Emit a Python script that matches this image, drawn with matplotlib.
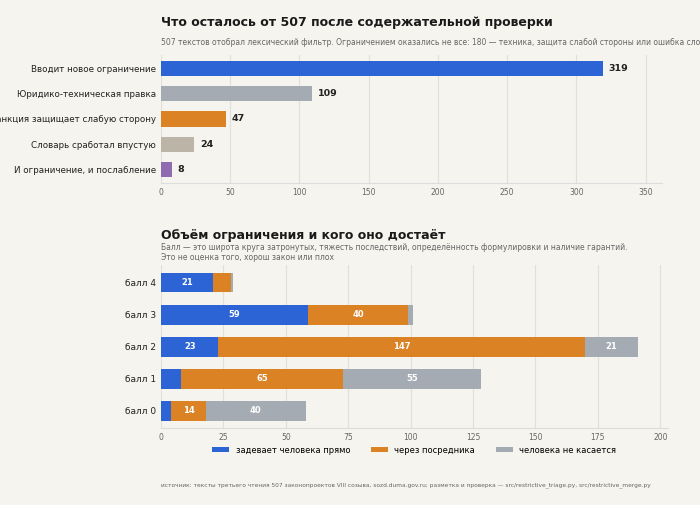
import matplotlib
matplotlib.use("Agg")
import matplotlib.pyplot as plt
import numpy as np

top_labels = ["Вводит новое ограничение", "Юридико-техническая правка", "Санкция защищает слабую сторону",
              "Словарь сработал впустую", "И ограничение, и послабление"]
top_values = [319, 109, 47, 24, 8]
top_colors = ["#2c64d6", "#a5abb2", "#db8224", "#bcb4a6", "#8f6bb0"]

scores = ["балл 4", "балл 3", "балл 2", "балл 1", "балл 0"]
direct = [21, 59, 23, 8, 4]
via = [7, 40, 147, 65, 14]
none_ = [1, 2, 21, 55, 40]
series_names = ["задевает человека прямо", "через посредника", "человека не касается"]
series_colors = ["#2c64d6", "#db8224", "#a5abb2"]

bg = "#f6f4ee"
fig = plt.figure(figsize=(7, 5.05), dpi=100, facecolor=bg)

ax1 = fig.add_axes([0.23, 0.638, 0.716, 0.253], facecolor=bg)
y = np.arange(len(top_labels))
ax1.barh(y, top_values, color=top_colors, height=0.6)
for yi, v in zip(y, top_values):
    ax1.text(v + 4, yi, str(v), va="center", ha="left", fontsize=6.8, fontweight="bold", color="#222")
ax1.set_yticks(y, top_labels)
ax1.invert_yaxis()
ax1.set_xlim(0, 362)
ax1.set_xticks(range(0, 351, 50))
ax1.grid(axis="x", color="#e2dfd8", lw=0.8)
ax1.set_axisbelow(True)
for s in ["top", "right", "left"]:
    ax1.spines[s].set_visible(False)
ax1.spines["bottom"].set_color("#ddd")
ax1.tick_params(axis="x", labelsize=5.5, colors="#666", length=0)
ax1.tick_params(axis="y", labelsize=6.3, length=0, labelcolor="#222")
fig.text(0.23, 0.955, "Что осталось от 507 после содержательной проверки", fontsize=9, fontweight="bold", color="#1a1a1a", va="center")
fig.text(0.23, 0.915, "507 текстов отобрал лексический фильтр. Ограничением оказались не все: 180 — техника, защита слабой стороны или ошибка словаря",
         fontsize=5.5, color="#666", va="center")

ax2 = fig.add_axes([0.23, 0.152, 0.724, 0.323], facecolor=bg)
y2 = np.arange(len(scores))
left = np.zeros(len(scores))
for vals, c, name in zip([direct, via, none_], series_colors, series_names):
    ax2.barh(y2, vals, left=left, color=c, height=0.62, label=name)
    for yi, l, v in zip(y2, left, vals):
        if v >= 10:
            ax2.text(l + v / 2, yi, str(v), ha="center", va="center", fontsize=6, fontweight="bold", color="white")
    left = left + np.array(vals)
ax2.set_yticks(y2, scores)
ax2.invert_yaxis()
ax2.set_xlim(0, 203)
ax2.set_xticks(range(0, 201, 25))
ax2.grid(axis="x", color="#e2dfd8", lw=0.8)
ax2.set_axisbelow(True)
for s in ["top", "right", "left"]:
    ax2.spines[s].set_visible(False)
ax2.spines["bottom"].set_color("#ddd")
ax2.tick_params(axis="x", labelsize=5.5, colors="#666", length=0)
ax2.tick_params(axis="y", labelsize=6.5, length=0, labelcolor="#222")
ax2.legend(loc="upper center", bbox_to_anchor=(0.5, -0.06), ncol=3, frameon=False, fontsize=6,
           handlelength=2, handleheight=0.6, columnspacing=2.5)
fig.text(0.23, 0.533, "Объём ограничения и кого оно достаёт", fontsize=9, fontweight="bold", color="#1a1a1a", va="center")
fig.text(0.23, 0.5, "Балл — это широта круга затронутых, тяжесть последствий, определённость формулировки и наличие гарантий.\nЭто не оценка того, хорош закон или плох",
         fontsize=5.5, color="#666", va="center", linespacing=1.05)
fig.text(0.23, 0.04, "источник: тексты третьего чтения 507 законопроектов VIII созыва, sozd.duma.gov.ru; разметка и проверка — src/restrictive_triage.py, src/restrictive_merge.py",
         fontsize=4.2, color="#666", va="center")
fig.savefig("out.png", dpi=100, facecolor=bg)
